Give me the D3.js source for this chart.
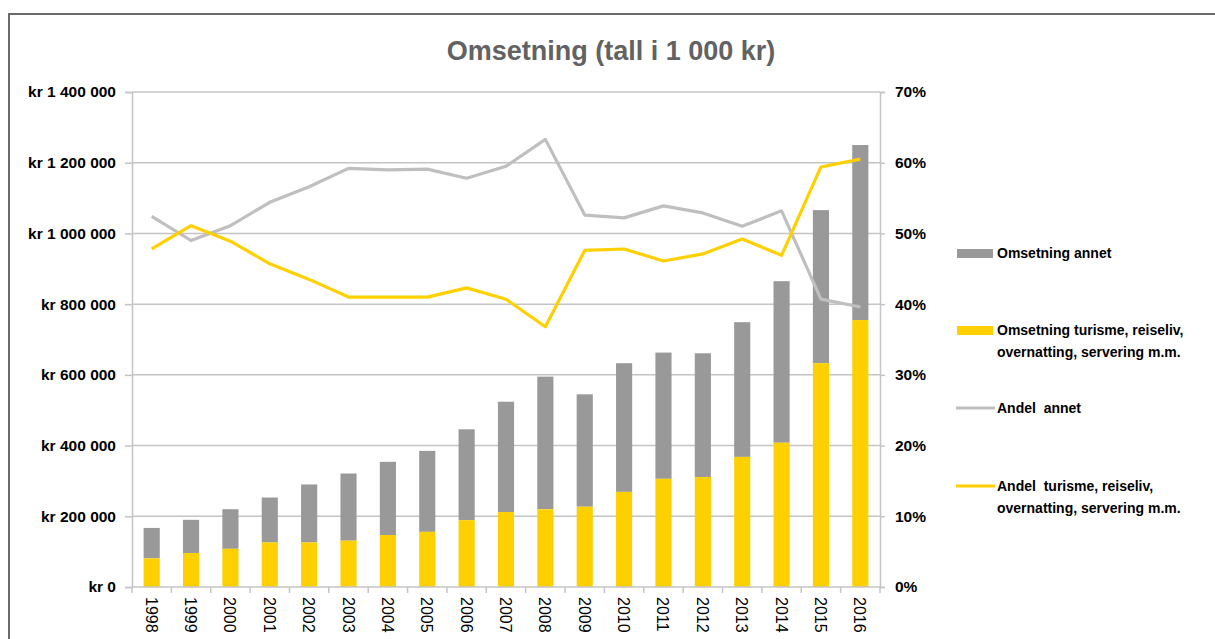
<!DOCTYPE html>
<html>
<head>
<meta charset="utf-8">
<script src="https://cdn.jsdelivr.net/npm/d3@7"></script>
<style>
  body { margin: 0; background: #fff; }
  svg { display: block; }
  text { font-family: "Liberation Sans", Arial, sans-serif; }
</style>
</head>
<body>
<div id="chart"></div>
<script>
// data (tall i 1 000 kr)
const years = ['1998','1999','2000','2001','2002','2003','2004','2005','2006','2007',
               '2008','2009','2010','2011','2012','2013','2014','2015','2016'];
const omsTurisme = [81000, 96000, 108000, 126000, 126000, 131000, 147000, 156000, 189000, 212000,
                    220000, 227000, 269000, 306000, 311000, 368000, 408000, 633000, 755000];
const omsTotal = [167000, 190000, 220000, 253000, 290000, 321000, 354000, 385000, 446000, 524000,
                  595000, 545000, 633000, 663000, 661000, 749000, 865000, 1066000, 1250000];
const andelAnnet = [0.524, 0.490, 0.511, 0.544, 0.566, 0.592, 0.590, 0.591, 0.578, 0.595,
                    0.633, 0.526, 0.522, 0.539, 0.529, 0.510, 0.532, 0.407, 0.396];
const andelTurisme = [0.478, 0.511, 0.489, 0.457, 0.435, 0.410, 0.410, 0.410, 0.423, 0.407,
                      0.368, 0.476, 0.478, 0.461, 0.471, 0.492, 0.469, 0.594, 0.605];
const leftTicks = [0, 200000, 400000, 600000, 800000, 1000000, 1200000, 1400000];
const rightTicks = [0, 0.1, 0.2, 0.3, 0.4, 0.5, 0.6, 0.7];

const W = 1215, H = 639;
const margin = {top: 92, right: 335, bottom: 52, left: 132};
const grey = '#999999', yellow = '#ffd000', lineGrey = '#bfbfbf', gridCol = '#c4c4c4';

let svg = d3.select('#chart').append('svg').attr('width', W).attr('height', H);

// frame
svg.append('rect').attr('x', 9).attr('y', 14).attr('width', W + 10).attr('height', H + 10)
    .attr('fill', 'none').attr('stroke', '#6a6a6a').attr('stroke-width', 2);

svg.append('text').attr('x', 611).attr('y', 60).attr('text-anchor', 'middle')
    .attr('font-size', 27).attr('font-weight', 'bold').attr('fill', '#626262')
    .text('Omsetning (tall i 1 000 kr)');

let x = d3.scaleBand().domain(years).range([margin.left, W - margin.right])
    .paddingInner(0.59).paddingOuter(0.295);
let y = d3.scaleLinear().domain([0, 1400000]).range([H - margin.bottom, margin.top]);
let y2 = d3.scaleLinear().domain([0, 0.7]).range([H - margin.bottom, margin.top]);

const loc = d3.formatLocale({decimal: ',', thousands: ' ', grouping: [3], currency: ['kr ', '']});
const fmtKr = (d) => 'kr ' + loc.format(',')(d);

// gridlines
svg.append('g').selectAll('line').data(leftTicks.slice(1)).enter().append('line')
    .attr('x1', margin.left).attr('x2', W - margin.right)
    .attr('y1', (d) => y(d)).attr('y2', (d) => y(d))
    .attr('stroke', gridCol).attr('stroke-width', 1.5);

// left axis
let gL = svg.append('g').attr('transform', 'translate(' + margin.left + ',0)')
    .call(d3.axisLeft(y).tickValues(leftTicks).tickFormat(fmtKr).tickSize(7).tickPadding(9));
gL.select('.domain').attr('stroke', gridCol).attr('stroke-width', 1.5);
gL.selectAll('.tick line').attr('stroke', gridCol).attr('stroke-width', 1.5);
gL.selectAll('text').attr('font-size', 15.5).attr('font-weight', 'bold').attr('fill', '#000')
    .attr('font-family', '"Liberation Sans", Arial, sans-serif');

// right axis
let gR = svg.append('g').attr('transform', 'translate(' + (W - margin.right) + ',0)')
    .call(d3.axisRight(y2).tickValues(rightTicks).tickFormat(d3.format('.0%')).tickSize(5).tickPadding(10));
gR.select('.domain').attr('stroke', gridCol).attr('stroke-width', 1.5);
gR.selectAll('.tick line').attr('stroke', gridCol).attr('stroke-width', 1.5);
gR.selectAll('text').attr('font-size', 15.5).attr('font-weight', 'bold').attr('fill', '#000')
    .attr('font-family', '"Liberation Sans", Arial, sans-serif');

// bars
let bars = svg.append('g');
bars.selectAll('rect.annet').data(years).enter().append('rect').attr('class', 'annet')
    .attr('x', (d) => x(d)).attr('width', x.bandwidth())
    .attr('y', (d, i) => y(omsTotal[i]))
    .attr('height', (d, i) => y(omsTurisme[i]) - y(omsTotal[i]))
    .attr('fill', grey);
bars.selectAll('rect.tur').data(years).enter().append('rect').attr('class', 'tur')
    .attr('x', (d) => x(d)).attr('width', x.bandwidth())
    .attr('y', (d, i) => y(omsTurisme[i]))
    .attr('height', (d, i) => y(0) - y(omsTurisme[i]))
    .attr('fill', yellow);

// x axis
const step = x.step();
const base = y(0);
svg.append('line').attr('x1', margin.left).attr('x2', W - margin.right)
    .attr('y1', base).attr('y2', base).attr('stroke', gridCol).attr('stroke-width', 1.5);
let bounds = years.map((d) => x(d) + x.bandwidth() / 2 - step / 2);
bounds.push(x(years[years.length - 1]) + x.bandwidth() / 2 + step / 2);
svg.append('g').selectAll('line').data(bounds).enter().append('line')
    .attr('x1', (d) => d).attr('x2', (d) => d).attr('y1', base).attr('y2', base + 6)
    .attr('stroke', gridCol).attr('stroke-width', 1.5);
svg.append('g').selectAll('text').data(years).enter().append('text')
    .attr('transform', (d) => 'translate(' + (x(d) + x.bandwidth() / 2 - 6) + ',' + (base + 10) + ') rotate(90)')
    .attr('font-size', 16).attr('fill', '#000').text((d) => d);

// lines
let line = (vals) => d3.line().x((d, i) => x(years[i]) + x.bandwidth() / 2).y((d) => y2(d))(vals);
svg.append('path').attr('d', line(andelAnnet)).attr('fill', 'none')
    .attr('stroke', lineGrey).attr('stroke-width', 3.2).attr('stroke-linejoin', 'round');
svg.append('path').attr('d', line(andelTurisme)).attr('fill', 'none')
    .attr('stroke', yellow).attr('stroke-width', 3.2).attr('stroke-linejoin', 'round');

// legend
let legendItems = [
    {type: 'rect', color: grey, y: 253, lines: ['Omsetning annet']},
    {type: 'rect', color: yellow, y: 330, lines: ['Omsetning turisme, reiseliv,', 'overnatting, servering m.m.']},
    {type: 'line', color: lineGrey, y: 408, lines: ['Andel  annet']},
    {type: 'line', color: yellow, y: 486, lines: ['Andel  turisme, reiseliv,', 'overnatting, servering m.m.']}
];
let legend = svg.append('g').selectAll('g').data(legendItems).enter().append('g')
    .attr('transform', (d) => 'translate(0,' + d.y + ')');
legend.filter((d) => d.type === 'rect').append('rect')
    .attr('x', 957).attr('y', -4).attr('width', 36).attr('height', 9).attr('fill', (d) => d.color);
legend.filter((d) => d.type === 'line').append('line')
    .attr('x1', 956).attr('x2', 995).attr('y1', 0).attr('y2', 0)
    .attr('stroke', (d) => d.color).attr('stroke-width', 3);
legend.append('text').attr('x', 997).attr('y', 5).attr('font-size', 14).attr('font-weight', 'bold')
    .attr('fill', '#000').style('white-space', 'pre')
    .selectAll('tspan').data((d) => d.lines).enter().append('tspan')
    .attr('x', 997).attr('dy', (d, i) => i === 0 ? 0 : 22).text((d) => d);
</script>
</body>
</html>
